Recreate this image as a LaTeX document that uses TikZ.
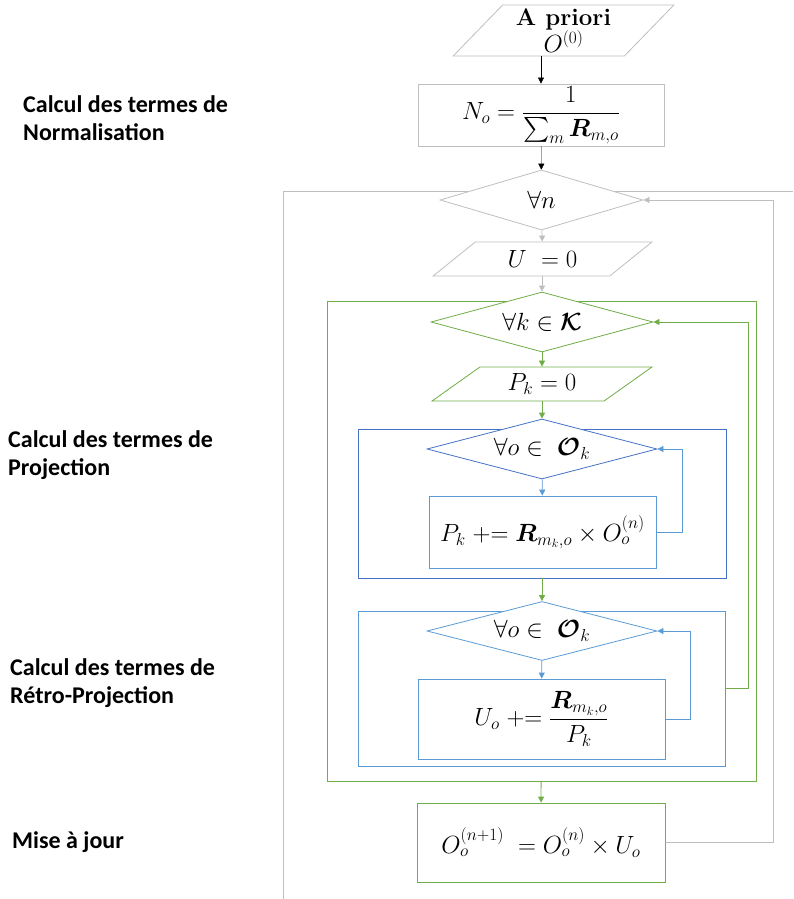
\documentclass[tikz,border=0pt]{standalone}
\usepackage{fontspec}
\usepackage{amsmath}
\usepackage{bm}
\newfontfamily\labelfont{Carlito}
\usepackage{xcolor}
\definecolor{cLine}{HTML}{BFBFBF}
\definecolor{cGreen}{HTML}{70AD47}
\definecolor{cBlue}{HTML}{4472C4}
\definecolor{cLight}{HTML}{5B9BD5}
\usepackage{tikz}
\usetikzlibrary{positioning,arrows.meta,shapes.geometric,calc}
\tikzset{
  node-io/.style={trapezium,trapezium stretches=true,draw,fill=white,
    inner sep=0pt,align=center},
  node-test/.style={diamond,draw,fill=white,inner sep=0pt},
  node-box/.style={rectangle,draw,fill=white,inner sep=0pt},
  node-frame/.style={rectangle,draw,inner sep=0pt},
  node-label/.style={anchor=west,align=left,inner sep=0pt,
    font=\labelfont\bfseries\fontsize{24}{28}\selectfont},
  arrow/.style={-{Triangle[length=6pt,width=6pt]},draw=black},
  arrow-gray/.style={-{Triangle[length=6pt,width=6pt]},draw=cLine,thick},
  arrow-green/.style={-{Triangle[length=6pt,width=6pt]},draw=cGreen,thick},
  arrow-blue/.style={-{Triangle[length=6pt,width=6pt]},draw=cLight,thick},
}

\begin{document}
\begin{tikzpicture}[x=1pt,y=-1pt,font=\fontsize{24}{26}\selectfont]
  \useasboundingbox (0,0) rectangle (793,899);

  % cadres des boucles
  \draw[cLine,thick] (283,899) |- (793,191);
  \node[node-frame,draw=cGreen,thick,minimum width=429,minimum height=480] (kframe) at (541.5,541) {};
  \node[node-frame,draw=cBlue,thick,minimum width=368,minimum height=149] (projframe) at (542,503.5) {};
  \node[node-frame,draw=cLight,thick,minimum width=367,minimum height=155] (retroframe) at (541.5,688.5) {};

  % etapes
  \node[node-io,draw=cLine,thick,trapezium left angle=49,trapezium right angle=131,
    minimum width=221,minimum height=51] (apriori) at (563.5,30.5)
    {\textbf{A priori}\\$O^{(0)}$};
  \node[node-box,draw=cLine,thick,minimum width=246,minimum height=62] (norm) at (541,115)
    {$\displaystyle N_o = \frac{1}{\sum_m \bm{R}_{m,o}}$};
  \node[node-test,draw=cLine,thick,aspect=3.38,minimum width=203,minimum height=60] (forn) at (541.5,200) {$\forall n$};
  \node[node-io,draw=cLine,thick,trapezium left angle=38,trapezium right angle=142,
    minimum width=219,minimum height=34] (uzero) at (542.5,259) {$U\ = 0$};
  \node[node-test,draw=cGreen,thick,aspect=3.7,minimum width=222,minimum height=60] (fork) at (542,322)
    {$\forall k \in \bm{\mathcal{K}}$};
  \node[node-io,draw=cGreen,thick,trapezium left angle=38,trapezium right angle=142,
    minimum width=220,minimum height=34] (pzero) at (542,384) {$P_k = 0$};
  \node[node-test,draw=cBlue,thick,aspect=3.83,minimum width=230,minimum height=60] (foro1) at (542,449)
    {$\forall o \in\ \bm{\mathcal{O}}_k$};
  \node[node-box,draw=cLight,thick,minimum width=227,minimum height=72] (projbox) at (542.5,532)
    {$P_k \mathrel{+}= \bm{R}_{m_k,o} \times O_o^{(n)}$};
  \node[node-test,draw=cLight,thick,aspect=3.9,minimum width=230,minimum height=59] (foro2) at (542,631)
    {$\forall o \in\ \bm{\mathcal{O}}_k$};
  \node[node-box,draw=cLight,thick,minimum width=247,minimum height=80] (retrobox) at (541.5,719)
    {$\displaystyle U_o \mathrel{+}= \frac{\bm{R}_{m_k,o}}{P_k}$};
  \node[node-box,draw=cGreen,thick,minimum width=248,minimum height=79] (maj) at (541,842.5)
    {$O_o^{(n+1)}\ = O_o^{(n)} \times U_o$};

  % titres
  \node[node-label] (tnorm) at (23,118) {Calcul des termes de\\Normalisation};
  \node[node-label] (tproj) at (8,455) {Calcul des termes de\\Projection};
  \node[node-label] (tretro) at (10,683) {Calcul des termes de\\Rétro-Projection};
  \node[node-label] (tmaj) at (12,842) {Mise à jour};

  \draw[arrow] (apriori.south -| norm.north) -- (norm);
  \draw[arrow] (norm) -- (forn);
  \draw[arrow-gray] (forn) -- (uzero);
  \draw[arrow-gray] (uzero.south -| fork.north) -- (fork);
  \draw[arrow-green] (fork) -- (pzero);
  \draw[arrow-green] (pzero.south -| foro1.north) -- (foro1);
  \draw[arrow-blue] (foro1) -- (projbox);
  \draw[arrow-blue] (projbox.east) -- ++(26,0) |- (foro1.east);
  \draw[arrow-green] (projframe) -- (foro2);
  \draw[arrow-blue] (foro2) -- (retrobox);
  \draw[arrow-blue] (retrobox.east) -- ++(25,0) |- (foro2.east);
  \draw[arrow-green] (retroframe.east) -- ++(23,0) |- (fork.east);
  \draw[arrow-green] (kframe) -- (maj);
  \draw[arrow-gray] (maj.east) -- ++(108,0) |- (forn.east);
\end{tikzpicture}
\end{document}
